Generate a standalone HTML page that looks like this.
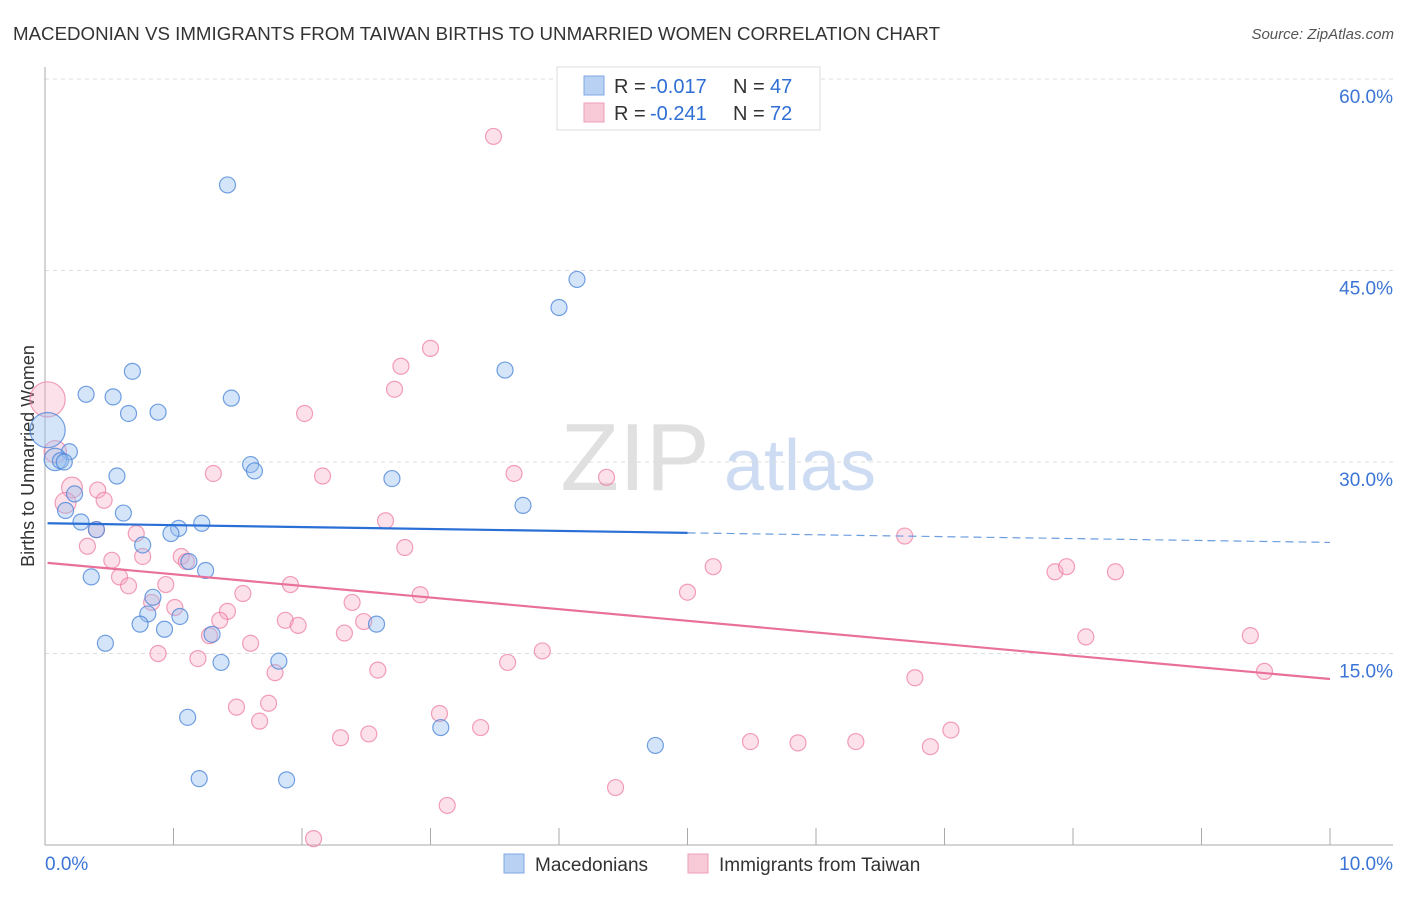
<!DOCTYPE html>
<html><head><meta charset="utf-8"><style>
body{margin:0;background:#fff;font-family:"Liberation Sans",sans-serif;}
svg text{font-family:"Liberation Sans",sans-serif;}
</style></head><body>
<svg id="chart" width="1406" height="892" xmlns="http://www.w3.org/2000/svg">
<text x="13" y="40" font-size="18" fill="#333" textLength="927" lengthAdjust="spacingAndGlyphs">MACEDONIAN VS IMMIGRANTS FROM TAIWAN BIRTHS TO UNMARRIED WOMEN CORRELATION CHART</text>
<text x="1394" y="39" font-size="15" fill="#555" text-anchor="end" font-style="italic">Source: ZipAtlas.com</text>
<text transform="translate(34,456) rotate(-90)" font-size="18" fill="#333" text-anchor="middle">Births to Unmarried Women</text>
<g>
<text x="635" y="490" font-size="96" fill="#e0e0e0" font-family="Liberation Serif" text-anchor="middle">ZIP</text>
<text x="800" y="490" font-size="72" fill="#cddcf2" text-anchor="middle">atlas</text>
</g>
<g id="grid"></g><g id="axes"></g><g id="marks"></g>
<g>
<rect x="557" y="67" width="263" height="63" fill="#fff" stroke="#ddd"/>
<rect x="584" y="76" width="20" height="19" fill="#b9d1f3" stroke="#7ea8e4"/>
<rect x="584" y="103" width="20" height="19" fill="#f8c9d7" stroke="#ef9fb7"/>
<text x="614" y="93" font-size="20" fill="#333">R =</text>
<text x="650" y="93" font-size="20" fill="#2f6fd4">-0.017</text>
<text x="733" y="93" font-size="20" fill="#333">N =</text>
<text x="770" y="93" font-size="20" fill="#2f6fd4">47</text>
<text x="614" y="120" font-size="20" fill="#333">R =</text>
<text x="650" y="120" font-size="20" fill="#2f6fd4">-0.241</text>
<text x="733" y="120" font-size="20" fill="#333">N =</text>
<text x="770" y="120" font-size="20" fill="#2f6fd4">72</text>
</g>
<g>
<rect x="504" y="854" width="20" height="19" fill="#b9d1f3" stroke="#7ea8e4"/>
<text x="535" y="871" font-size="19" fill="#333">Macedonians</text>
<rect x="688" y="854" width="20" height="19" fill="#f8c9d7" stroke="#ef9fb7"/>
<text x="719" y="871" font-size="19" fill="#333">Immigrants from Taiwan</text>
</g>
</svg>
<script>
const yTicks=[15,30,45,60];
const yTickLabels=["15.0%","30.0%","45.0%","60.0%"];
const xTickLabels=["0.0%","10.0%"];
const blueX=[1.42,4.14,4.00,3.58,0.68,0.32,0.53,1.45,0.65,0.88,0.19,0.08,0.12,1.60,1.63,0.56,2.70,0.23,3.72,0.61,0.28,1.22,0.40,1.04,0.98,0.76,1.12,1.25,0.36,0.84,0.80,1.05,0.74,0.93,2.58,1.30,0.47,1.37,1.82,1.11,3.08,4.75,1.20,1.88,0.15,0.02,0.16];
const blueY=[51.7,44.3,42.1,37.2,37.1,35.3,35.1,35.0,33.8,33.9,30.8,30.2,30.1,29.8,29.3,28.9,28.7,27.5,26.6,26.0,25.3,25.2,24.7,24.8,24.4,23.5,22.2,21.5,21.0,19.4,18.1,17.9,17.3,16.9,17.3,16.5,15.8,14.3,14.4,10.0,9.2,7.8,5.2,5.1,30.0,32.5,26.2];
const blueW=[1,1,1,1,1,1,1,1,1,1,1,1.4,1,1,1,1,1,1,1,1,1,1,1,1,1,1,1,1,1,1,1,1,1,1,1,1,1,1,1,1,1,1,1,1,1,2.2,1];
const pinkX=[3.49,3.00,2.77,2.72,2.02,0.02,0.08,1.31,2.16,3.65,4.37,0.21,0.41,0.46,0.16,2.65,0.40,0.71,6.69,2.80,0.33,0.52,0.76,1.06,1.10,5.20,7.86,7.95,8.33,0.58,0.94,0.65,1.91,1.54,2.92,5.00,0.83,1.01,2.39,1.42,1.36,1.87,1.97,2.48,2.33,1.28,8.10,9.38,1.60,0.88,1.19,3.87,3.60,2.59,1.79,9.49,6.77,1.74,1.49,1.67,3.07,3.39,7.05,2.30,2.52,5.49,5.86,6.31,6.89,4.44,3.13,2.09];
const pinkY=[55.5,38.9,37.5,35.7,33.8,34.9,30.8,29.1,28.9,29.1,28.8,28.0,27.8,27.0,26.8,25.4,24.7,24.4,24.2,23.3,23.4,22.3,22.6,22.6,22.2,21.8,21.4,21.8,21.4,21.0,20.4,20.3,20.4,19.7,19.6,19.8,19.0,18.6,19.0,18.3,17.6,17.6,17.2,17.5,16.6,16.4,16.3,16.4,15.8,15.0,14.6,15.2,14.3,13.7,13.5,13.6,13.1,11.1,10.8,9.7,10.3,9.2,9.0,8.4,8.7,8.1,8.0,8.1,7.7,4.5,3.1,0.5];
const pinkW=[1,1,1,1,1,2.2,1.4,1,1,1,1,1.3,1,1,1.3,1,1,1,1,1,1,1,1,1,1,1,1,1,1,1,1,1,1,1,1,1,1,1,1,1,1,1,1,1,1,1,1,1,1,1,1,1,1,1,1,1,1,1,1,1,1,1,1,1,1,1,1,1,1,1,1,1];
const blueTrend=[25.2,23.7];
const pinkTrend=[22.1,13.0];
const NS="http://www.w3.org/2000/svg";
const X0=45,X1=1330,Y0=845;
function sx(v){return X0+(v/10)*(X1-X0);}
function sy(v){return Y0-v*12.767;}
function mk(t,a,p){const e=document.createElementNS(NS,t);for(const k in a)e.setAttribute(k,a[k]);p.appendChild(e);return e;}
const grid=document.getElementById('grid'),axes=document.getElementById('axes'),marks=document.getElementById('marks');
yTicks.forEach((t,i)=>{
 const l=mk('line',{x1:45,x2:1393,y1:sy(t),y2:sy(t),stroke:'#ddd','stroke-dasharray':'4,4'},grid);
 
 
 const tx=mk('text',{x:1393,y:sy(t)+24,'font-size':19,fill:'#3b74d6','text-anchor':'end'},axes);
 tx.textContent=yTickLabels[i];
 
 
});
const ax=mk('line',{x1:45,x2:45,y1:67,y2:845,stroke:'#aaa'},axes);


const bx=mk('line',{x1:45,x2:1393,y1:845,y2:845,stroke:'#aaa'},axes);


for(let k=1;k<=10;k++){
 const t=mk('line',{x1:sx(k),x2:sx(k),y1:828,y2:845,stroke:'#aaa'},axes);
 
 
}
[[0,'start',45],[10,'end',1393]].forEach((d,i)=>{
 const t=mk('text',{x:d[2],y:870,'font-size':19,fill:'#3b74d6','text-anchor':d[1]},axes);
 t.textContent=xTickLabels[i];
 
 
});
function pts(xs,ys,ws,fill,stroke,name){
 xs.forEach((x,i)=>{
  const c=mk('circle',{cx:sx(x),cy:sy(ys[i]),r:8*ws[i],fill:fill,stroke:stroke,'stroke-width':1.2},marks);
  
  
 });
}
pts(pinkX,pinkY,pinkW,'rgba(246,170,195,0.35)','rgba(236,120,155,0.7)','taiwan-point');
pts(blueX,blueY,blueW,'rgba(150,190,240,0.4)','rgba(70,130,215,0.75)','macedonian-point');
const bl=mk('line',{x1:sx(0.02),y1:sy(blueTrend[0]),x2:sx(5),y2:sy(blueTrend[0]+(blueTrend[1]-blueTrend[0])*0.5),stroke:'#2a6fd6','stroke-width':2.2},marks);


const bd=mk('line',{x1:sx(5),y1:sy(blueTrend[0]+(blueTrend[1]-blueTrend[0])*0.5),x2:sx(10),y2:sy(blueTrend[1]),stroke:'#6d9ee0','stroke-width':1.2,'stroke-dasharray':'8,5'},marks);


const pl=mk('line',{x1:sx(0.02),y1:sy(pinkTrend[0]),x2:sx(10),y2:sy(pinkTrend[1]),stroke:'#e8709a','stroke-width':2.2},marks);


</script>
</body></html>
